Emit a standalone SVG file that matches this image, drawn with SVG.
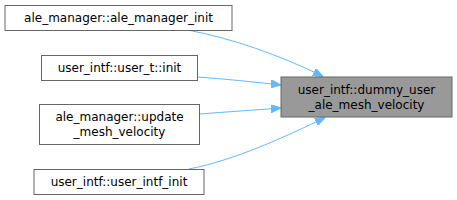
<svg xmlns="http://www.w3.org/2000/svg" width="457" height="200" viewBox="0 0 457 200">
<style>
.n rect{fill:#fff;stroke:#666;stroke-width:1}
.t rect{fill:#999;stroke:#666;stroke-width:1}
text{font-family:"DejaVu Sans",sans-serif;font-size:12px;fill:#000;text-anchor:middle}
.e{fill:none;stroke:#63b8ff;stroke-width:1}
</style>
<defs>
<marker id="a" viewBox="0 0 10 8" refX="10" refY="4" markerWidth="10" markerHeight="8" markerUnits="userSpaceOnUse" orient="auto">
<path d="M0,0 L10,4 L0,8 Z" fill="#63b8ff" stroke="#63b8ff"/>
</marker>
</defs>
<g id="connectors">
<path class="e" d="M190,30.5 C230,38 280,55 323,76.5" marker-end="url(#a)"/>
<path class="e" d="M197.5,77 C225,79 255,82 281,85" marker-end="url(#a)"/>
<path class="e" d="M199.5,114 C225,112 255,110 281,108" marker-end="url(#a)"/>
<path class="e" d="M189,169 C235,160 285,137 325,117.5" marker-end="url(#a)"/>
</g>
<g id="node1" class="n"><rect x="5" y="5.5" width="227" height="25"/><text x="118.5" y="22">ale_manager::ale_manager_init</text></g>
<g id="node2" class="n"><rect x="41.5" y="55.5" width="156" height="25"/><text x="119.5" y="72">user_intf::user_t::init</text></g>
<g id="node3" class="n"><rect x="39.5" y="104.5" width="160" height="40"/><text x="119.5" y="121">ale_manager::update</text><text x="119.5" y="136">_mesh_velocity</text></g>
<g id="node4" class="n"><rect x="34" y="169.5" width="170" height="25"/><text x="119" y="186">user_intf::user_intf_init</text></g>
<g id="target" class="t"><rect x="281" y="77" width="171" height="40"/><text x="366.5" y="93.5">user_intf::dummy_user</text><text x="366.5" y="108.5">_ale_mesh_velocity</text></g>
</svg>
